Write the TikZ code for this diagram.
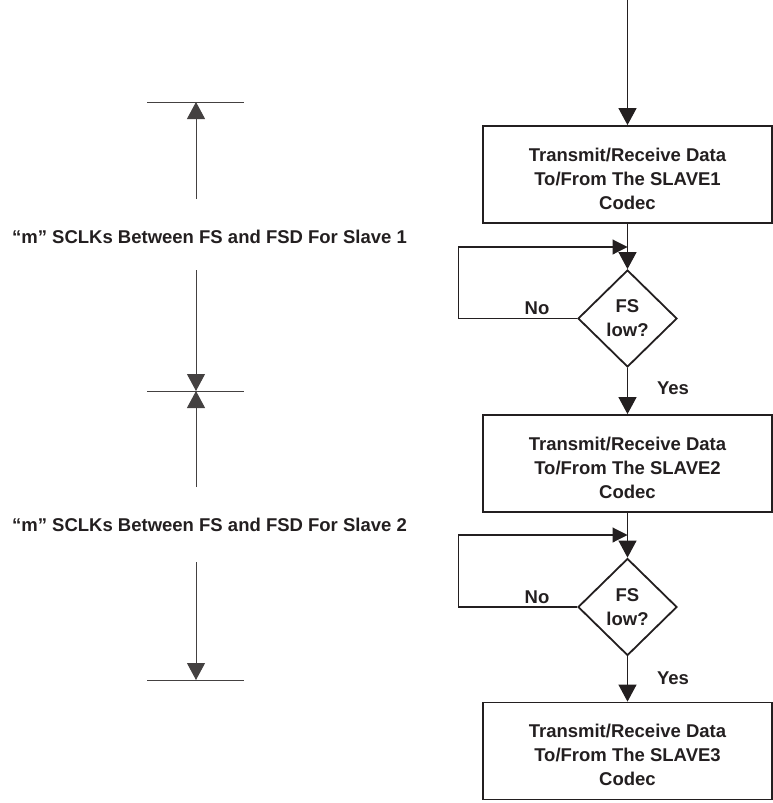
\documentclass[tikz,border=0pt]{standalone}
\usepackage{fontspec}
\setmainfont{Liberation Sans}
\usetikzlibrary{arrows.meta,shapes.geometric}
\definecolor{ink}{HTML}{231F20}
\begin{document}
\begin{tikzpicture}[x=1pt,y=-1pt,
  every node/.style={font=\fontsize{18.5}{24}\selectfont\bfseries, text=ink},
  procbox/.style={draw=ink, line width=1.8pt, rectangle, minimum width=289pt,
    minimum height=97pt, inner sep=0pt},
  boxtext/.style={align=center, inner sep=0pt},
  decision/.style={draw=ink, line width=1.8pt, diamond, minimum width=99pt,
    minimum height=97pt, inner sep=0pt, align=center},
  flow/.style={draw=ink, line width=1.2pt, -{Triangle[length=17pt,width=18pt]}},
  loopline/.style={draw=ink, line width=1.1pt, -{Triangle[length=15pt,width=15pt]}},
  dimline/.style={draw=ink!85, line width=1pt},
  dimarrow/.style={dimline, -{Triangle[length=17pt,width=18pt]}},
]
\useasboundingbox (0,0) rectangle (773,803);

% ---- flow chart ----
\coordinate (top) at (627.5,0);
\node[procbox] (b1) at (627.5,174.5) {};
\node[decision] (d1) at (627.5,318.5) {FS\\low?};
\node[procbox] (b2) at (627.5,463.5) {};
\node[decision] (d2) at (627.5,607) {FS\\low?};
\node[procbox] (b3) at (627.5,751) {};

\node[boxtext] (b1t) at ([yshift=-4pt]b1.center) {Transmit/Receive Data\\To/From The SLAVE1\\Codec};
\node[boxtext] (b2t) at ([yshift=-4pt]b2.center) {Transmit/Receive Data\\To/From The SLAVE2\\Codec};
\node[boxtext] (b3t) at ([yshift=-4pt]b3.center) {Transmit/Receive Data\\To/From The SLAVE3\\Codec};

\coordinate (j1) at (627.5,247);
\coordinate (j2) at (627.5,535);

\node (no1) at (537,308) {No};
\node (yes1) at (673,388) {Yes};
\node (no2) at (537,597) {No};
\node (yes2) at (673,678) {Yes};

\draw[flow] (top) -- (b1.north);
\draw[flow] (b1.south) -- (d1.north);
\draw[loopline] (d1.west) -- ++(-119,0) |- (j1);
\draw[flow] (d1.south) -- (b2.north);
\draw[flow] (b2.south) -- (d2.north);
\draw[loopline] (d2.west) -- ++(-119,0) |- (j2);
\draw[flow] (d2.south) -- (b3.north);

% ---- timing markers ----
\coordinate (m1) at (196,102);
\coordinate (m2) at (196,391);
\coordinate (m3) at (196,680);
\draw[dimline] (m1) ++(-49,0) -- ++(97,0);
\draw[dimline] (m2) ++(-49,0) -- ++(97,0);
\draw[dimline] (m3) ++(-49,0) -- ++(97,0);

\node (s1) at (209.5,237) {“m” SCLKs Between FS and FSD For Slave 1};
\node (s2) at (209.5,525) {“m” SCLKs Between FS and FSD For Slave 2};
\coordinate (s1a) at (196,199);
\coordinate (s1b) at (196,270);
\coordinate (s2a) at (196,487);
\coordinate (s2b) at (196,562);

\draw[dimarrow] (s1a) -- (m1);
\draw[dimarrow] (s1b) -- (m2);
\draw[dimarrow] (s2a) -- (m2);
\draw[dimarrow] (s2b) -- (m3);
\end{tikzpicture}
\end{document}
